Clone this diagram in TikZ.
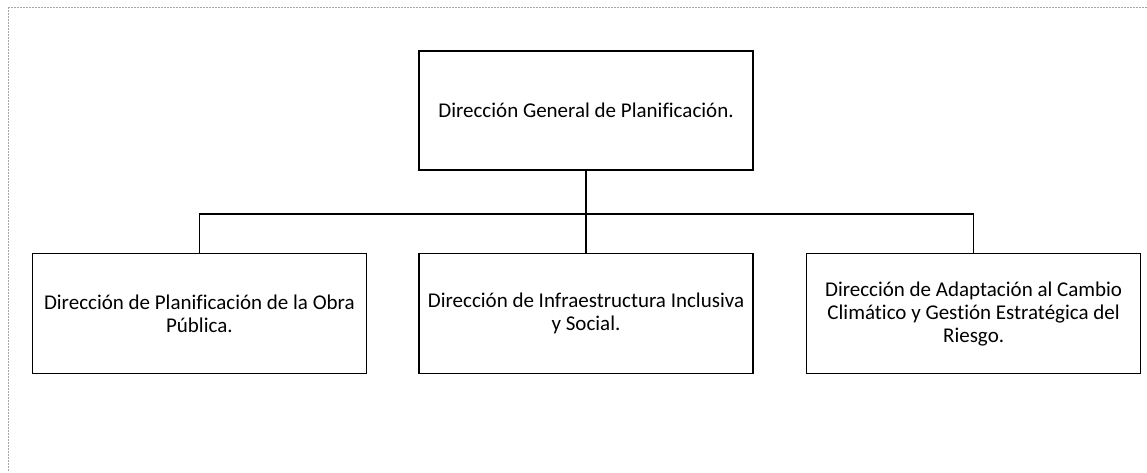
\documentclass[tikz,border=0pt]{standalone}
\usepackage{fontspec}
\setmainfont[RawFeature={-liga;-clig;-calt;-dlig}]{Carlito}
\usetikzlibrary{positioning}

\begin{document}
\begin{tikzpicture}[x=1pt, y=1pt, font=\fontsize{21pt}{23pt}\selectfont, line width=1.6pt]
\tikzstyle{box}=[draw, align=center, inner sep=3pt, minimum width=334pt, minimum height=120pt]
\tikzstyle{scanedge}=[draw=black!35, line width=0.8pt, dash pattern=on 1.5pt off 1.5pt]
\useasboundingbox (0,0) rectangle (1147,-472);
\draw[scanedge] (8,-7) -- (1147,-7);
\draw[scanedge] (8,-7) -- (8,-472);
\node[box, minimum height=119pt] (top) at (586,-110.5) {Dirección General de Planificación.};
\node[box, below=82pt of top] (b2) {Dirección de Infraestructura Inclusiva\\y Social.};
\node[box, left=51pt of b2] (b1) {Dirección de Planificación de la Obra\\Pública.};
\node[box, right=52pt of b2] (b3) {Dirección de Adaptación al Cambio\\Climático y Gestión Estratégica del\\Riesgo.};
\draw (top.south) -- ++(0,-43) coordinate (bus);
\draw (b1.north) |- (bus) -| (b3.north);
\draw (bus) -- (b2.north);
\end{tikzpicture}
\end{document}
